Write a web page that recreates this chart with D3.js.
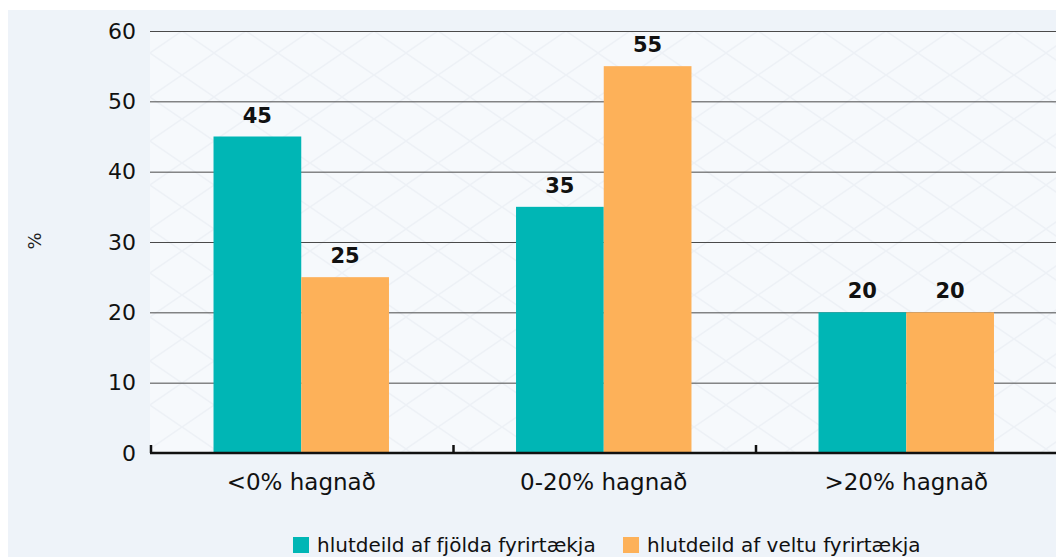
<!DOCTYPE html>
<html>
<head>
<meta charset="utf-8">
<script src="https://cdn.jsdelivr.net/npm/d3@7"></script>
<style>
  body { margin: 0; background: #ffffff; }
  svg { display: block; font-family: "DejaVu Sans", "Liberation Sans", Arial, sans-serif; }
</style>
</head>
<body>
<svg id="chart" width="1056" height="557"></svg>
<script>
// ---------------------------------------------------------------
// data
// ---------------------------------------------------------------
var categories = ["<0% hagnað", "0-20% hagnað", ">20% hagnað"];
var seriesNames = ["hlutdeild af fjölda fyrirtækja", "hlutdeild af veltu fyrirtækja"];
var countShare = [45, 35, 20];     // teal
var turnoverShare = [25, 55, 20];  // orange
var yTicks = [0, 10, 20, 30, 40, 50, 60];
var colors = ["#00b6b5", "#fdb159"];

// ---------------------------------------------------------------
// layout
// ---------------------------------------------------------------
var svg = d3.select("#chart");
var margin = {top: 31, left: 150};
var plotW = 907.5, plotH = 453 - 31;

// faint diamond texture for the plot area
var pat = svg.append("defs").append("pattern")
  .attr("id", "tex")
  .attr("patternUnits", "userSpaceOnUse")
  .attr("width", 64).attr("height", 44);
pat.append("rect").attr("width", 64).attr("height", 44).attr("fill", "#f6f9fc");
pat.append("path")
  .attr("d", "M0,22 L32,0 L64,22 L32,44 Z")
  .attr("fill", "none").attr("stroke", "#edf1f6").attr("stroke-width", 1.5);

// outer panel background
svg.append("rect")
  .attr("x", 8).attr("y", 10)
  .attr("width", 1056 - 8).attr("height", 557 - 10)
  .attr("fill", "#eef3f9");

var g = svg.append("g")
  .attr("transform", "translate(" + margin.left + "," + margin.top + ")");

// plot area, slightly lighter
g.append("rect")
  .attr("x", 0).attr("y", 0)
  .attr("width", plotW).attr("height", plotH)
  .attr("fill", "url(#tex)");

var x = d3.scaleBand().domain(categories).range([0, plotW])
  .paddingInner(0.42).paddingOuter(0.21);
var xs = d3.scaleBand().domain([0, 1]).range([0, x.bandwidth()]);
var y = d3.scaleLinear().domain([0, 60]).range([plotH, 0]);

// gridlines
g.append("g")
  .call(d3.axisLeft(y).tickValues(yTicks).tickSize(-plotW).tickFormat(""))
  .call(function(s) {
    s.select(".domain").remove();
    s.selectAll("line").attr("stroke", "#4a4a4a").attr("stroke-width", 1);
  });

// y tick labels
g.append("g")
  .call(d3.axisLeft(y).tickValues(yTicks).tickSize(0).tickPadding(14))
  .call(function(s) {
    s.select(".domain").remove();
    s.selectAll("text")
      .attr("font-size", 22)
      .attr("font-family", "DejaVu Sans, sans-serif")
      .attr("fill", "#111");
  });

// bars
var rows = categories.map(function(c, i) {
  return {cat: c, vals: [countShare[i], turnoverShare[i]]};
});

var groups = g.selectAll(".grp").data(rows).enter().append("g")
  .attr("class", "grp")
  .attr("transform", function(d) { return "translate(" + x(d.cat) + ",0)"; });

groups.selectAll("rect")
  .data(function(d) { return d.vals; })
  .enter().append("rect")
  .attr("x", function(d, i) { return xs(i); })
  .attr("width", xs.bandwidth())
  .attr("y", function(d) { return y(d); })
  .attr("height", function(d) { return plotH - y(d); })
  .attr("fill", function(d, i) { return colors[i]; });

groups.selectAll(".val")
  .data(function(d) { return d.vals; })
  .enter().append("text")
  .attr("class", "val")
  .attr("x", function(d, i) { return xs(i) + xs.bandwidth() / 2; })
  .attr("y", function(d) { return y(d) - 14; })
  .attr("text-anchor", "middle")
  .attr("font-size", 21)
  .attr("font-weight", "bold")
  .attr("fill", "#111")
  .text(function(d) { return d; });

// x axis: thick baseline with ticks at category boundaries
var bounds = [0, plotW / 3, 2 * plotW / 3];
g.append("line")
  .attr("x1", 0).attr("x2", plotW)
  .attr("y1", plotH).attr("y2", plotH)
  .attr("stroke", "#111").attr("stroke-width", 2.5);
g.selectAll(".xtick").data(bounds).enter().append("line")
  .attr("x1", function(d) { return d + 1; }).attr("x2", function(d) { return d + 1; })
  .attr("y1", plotH - 8).attr("y2", plotH)
  .attr("stroke", "#111").attr("stroke-width", 2.5);

g.selectAll(".xlab").data(categories).enter().append("text")
  .attr("x", function(d) { return x(d) + x.bandwidth() / 2; })
  .attr("y", plotH + 37)
  .attr("text-anchor", "middle")
  .attr("font-size", 23)
  .attr("fill", "#111")
  .text(function(d) { return d; });

// y axis title
svg.append("text")
  .attr("transform", "translate(41,241) rotate(-90)")
  .attr("text-anchor", "middle")
  .attr("font-size", 18)
  .attr("fill", "#222")
  .text("%");

// legend
var legX = [293, 623];
var leg = svg.selectAll(".leg").data(seriesNames).enter().append("g")
  .attr("transform", function(d, i) { return "translate(" + legX[i] + ",537)"; });
leg.append("rect")
  .attr("width", 16).attr("height", 16)
  .attr("fill", function(d, i) { return colors[i]; });
leg.append("text")
  .attr("x", 24).attr("y", 15)
  .attr("font-size", 20)
  .attr("fill", "#111")
  .text(function(d) { return d; });
</script>
</body>
</html>
